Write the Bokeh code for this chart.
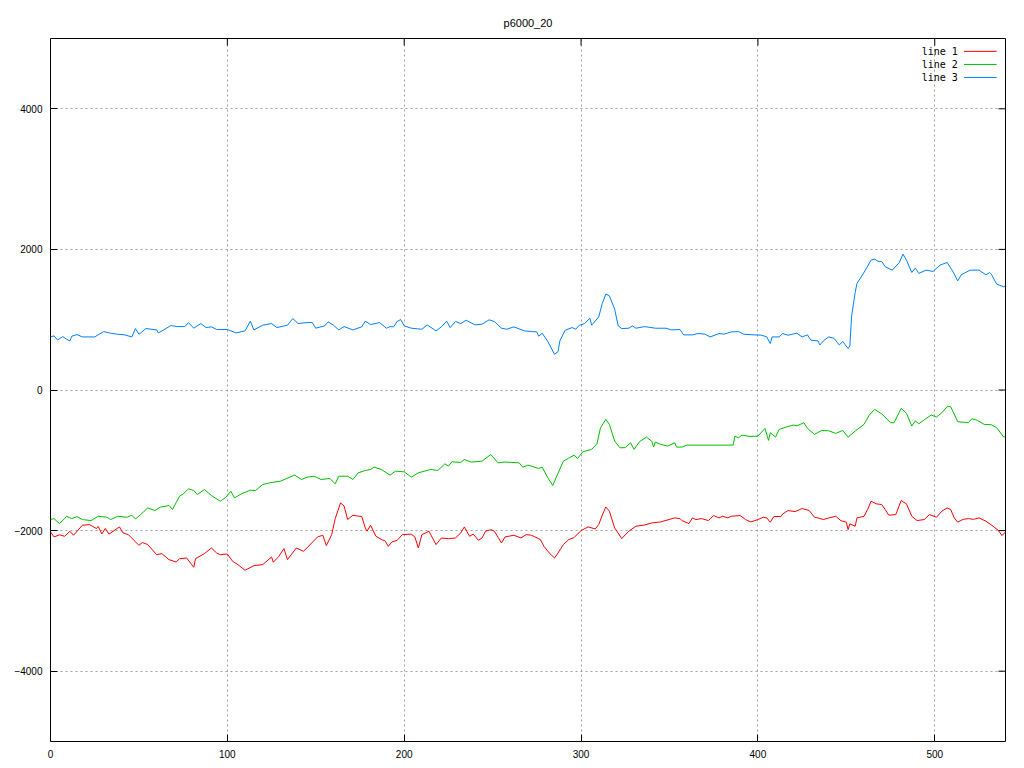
from bokeh.plotting import figure
from bokeh.models import Range1d, FixedTicker
from bokeh.core.properties import value
from bokeh.embed import file_html
from bokeh.resources import INLINE

# ---------------- data ----------------
line1_x = [0,2,5,8,11,13,18,22,26,27,29,31,33,36,39,41,44,50,52,55,60,63,67,71,73,77,81,82,87,91,94,96,100,103,106,110,115,120,125,126,129,132,134,139,143,145,151,154,156,159,161,164,166,168,171,173,176,178,179,181,184,188,189,191,193,196,199,204,206,208,210,214,218,221,225,229,232,234,237,239,242,244,246,249,251,255,257,262,266,269,272,277,279,282,285,287,290,293,296,300,304,308,310,312,314,316,319,323,327,331,336,340,345,353,356,357,361,363,365,368,372,375,378,380,383,385,390,393,396,400,403,405,407,409,413,414,417,421,425,429,432,434,437,440,444,447,450,451,452,455,456,460,462,464,467,470,472,474,478,481,484,487,490,494,497,501,504,507,509,511,513,516,519,522,525,529,533,536,538,540]
line1_y = [-2019,-2090,-2060,-2081,-2009,-2066,-1924,-1914,-1971,-1940,-2048,-1970,-2050,-1999,-1948,-2033,-2057,-2209,-2170,-2199,-2342,-2328,-2413,-2447,-2400,-2390,-2522,-2400,-2328,-2247,-2320,-2342,-2333,-2437,-2484,-2565,-2498,-2484,-2375,-2450,-2370,-2256,-2413,-2247,-2294,-2247,-2090,-2066,-2213,-2057,-1829,-1606,-1650,-1843,-1781,-1790,-1800,-1962,-2009,-1924,-2081,-2138,-2140,-2223,-2162,-2138,-2057,-2050,-2090,-2247,-2057,-2009,-2199,-2105,-2115,-2105,-2033,-1948,-2081,-2050,-2138,-2105,-2009,-1986,-2009,-2176,-2090,-2066,-2105,-2057,-2066,-2128,-2223,-2318,-2390,-2318,-2199,-2128,-2100,-1999,-1948,-1976,-1914,-1781,-1663,-1724,-1962,-2113,-2009,-1938,-1920,-1891,-1877,-1819,-1830,-1857,-1900,-1819,-1843,-1829,-1857,-1786,-1819,-1796,-1819,-1796,-1786,-1843,-1877,-1843,-1810,-1820,-1881,-1800,-1800,-1763,-1715,-1730,-1686,-1715,-1810,-1820,-1843,-1820,-1796,-1860,-1880,-1986,-1905,-1938,-1819,-1796,-1701,-1582,-1620,-1629,-1701,-1781,-1772,-1572,-1620,-1796,-1857,-1843,-1772,-1810,-1724,-1677,-1700,-1819,-1881,-1840,-1829,-1840,-1819,-1867,-1938,-1999,-2071,-2019]

line2_x = [0,2,5,8,9,12,15,18,23,27,32,34,38,43,46,48,51,55,59,62,67,69,73,75,78,81,83,87,91,96,99,102,104,108,113,116,120,124,130,138,142,145,149,153,158,161,163,168,171,174,178,181,183,187,192,195,200,204,208,215,219,223,225,227,232,234,238,244,249,253,257,265,267,270,276,278,281,284,286,290,293,296,298,301,306,309,311,314,316,319,322,325,328,330,333,337,340,341,342,345,349,353,354,357,360,386,387,389,391,395,400,404,406,407,410,412,416,420,422,426,428,432,436,440,444,448,451,455,460,463,466,470,475,477,481,484,487,489,491,495,498,501,504,507,509,513,519,521,524,528,532,535,539,540]
line2_y = [-1843,-1829,-1900,-1829,-1796,-1830,-1800,-1843,-1857,-1796,-1810,-1843,-1796,-1810,-1781,-1834,-1772,-1677,-1715,-1667,-1643,-1700,-1510,-1480,-1406,-1430,-1487,-1415,-1501,-1582,-1530,-1439,-1534,-1477,-1425,-1430,-1344,-1320,-1297,-1211,-1273,-1240,-1226,-1273,-1259,-1335,-1226,-1226,-1273,-1178,-1145,-1130,-1097,-1130,-1211,-1154,-1164,-1240,-1178,-1130,-1145,-1050,-1083,-1021,-1030,-988,-1026,-1012,-917,-1036,-1025,-1036,-1097,-1069,-1116,-1097,-1240,-1359,-1240,-1012,-970,-926,-974,-879,-845,-765,-537,-418,-489,-727,-822,-820,-751,-845,-736,-670,-730,-812,-740,-774,-798,-751,-812,-812,-784,-784,-656,-680,-641,-660,-656,-546,-717,-608,-670,-560,-527,-499,-510,-465,-546,-632,-575,-580,-617,-575,-670,-584,-489,-356,-275,-340,-465,-465,-261,-330,-513,-440,-480,-408,-356,-385,-323,-237,-237,-451,-465,-408,-430,-489,-494,-537,-670,-660]

line3_x = [0,2,4,7,9,11,12,15,18,25,30,34,38,42,46,48,50,54,60,61,64,68,72,76,78,81,85,88,91,94,100,105,110,113,115,120,125,128,134,137,140,145,148,150,155,157,160,163,166,171,176,178,181,186,190,192,194,196,198,200,204,210,213,218,221,224,226,229,232,235,240,244,248,251,255,258,262,268,272,275,276,278,281,285,287,288,291,295,297,299,302,305,306,310,312,314,316,319,321,323,327,329,331,336,342,348,351,356,358,363,366,370,373,378,381,385,389,392,398,402,405,407,408,412,414,417,422,425,428,430,434,435,437,440,443,446,448,451,452,453,455,456,460,464,466,468,470,472,476,480,482,484,487,489,491,495,499,503,507,510,513,515,520,525,529,531,532,535,539,540]
line3_y = [755,770,712,760,722,698,765,788,755,755,831,808,793,784,755,874,793,874,855,812,855,916,902,902,959,879,945,888,898,860,860,812,841,979,855,922,945,888,922,1016,945,959,959,879,912,969,922,855,902,855,898,979,931,959,879,902,898,974,1002,912,879,864,926,841,898,979,888,974,945,993,926,936,998,974,879,864,898,841,831,827,765,808,698,508,546,698,850,888,865,922,945,1021,922,1040,1230,1364,1340,1150,912,874,879,912,879,902,879,879,855,860,784,784,803,795,755,803,795,827,831,793,784,780,755,660,755,755,803,779,808,755,784,708,698,641,698,755,736,641,690,589,627,1055,1387,1515,1672,1848,1862,1830,1828,1753,1705,1814,1933,1848,1672,1734,1658,1705,1686,1777,1814,1696,1553,1639,1705,1705,1639,1670,1648,1506,1468,1482]

series_names = ["line 1", "line 2", "line 3"]
series_colors = ["#ff0000", "#00c000", "#0080ff"]
x_ticks = [0, 100, 200, 300, 400, 500]
y_ticks = [-4000, -2000, 0, 2000, 4000]
title_text = "p6000_20"

X0, X1 = 0, 540
Y0, Y1 = -5000, 5000
FW, FH = 955, 703

# ---------------- figure ----------------
p = figure(frame_width=FW, frame_height=FH,
           min_border_left=50, min_border_right=11,
           min_border_top=38, min_border_bottom=19,
           x_range=Range1d(X0, X1), y_range=Range1d(Y0, Y1),
           output_backend="svg", toolbar_location=None,
           title=title_text)

p.title.align = "center"
p.title.text_font = "Liberation Sans"
p.title.text_font_size = "11px"
p.title.text_font_style = "normal"
p.title.text_color = "#000000"
p.title.standoff = 19

p.outline_line_color = "#000000"
p.outline_line_width = 1
p.background_fill_color = "#ffffff"
p.border_fill_color = "#ffffff"

for ax, ticks in ((p.xaxis[0], x_ticks), (p.yaxis[0], y_ticks)):
    ax.ticker = FixedTicker(ticks=ticks)
    ax.axis_line_color = None
    ax.major_tick_in = 7
    ax.major_tick_out = 0
    ax.major_tick_line_color = "#000000"
    ax.minor_tick_line_color = None
    ax.major_label_text_font = "Liberation Sans"
    ax.major_label_text_font_size = "10px"
    ax.major_label_text_color = "#000000"
p.xaxis[0].major_label_standoff = 8
p.yaxis[0].major_label_standoff = 8

p.xgrid.ticker = FixedTicker(ticks=x_ticks[1:])
p.ygrid.ticker = FixedTicker(ticks=y_ticks)
for g in (p.xgrid[0], p.ygrid[0]):
    g.grid_line_color = "#a0a0a0"
    g.grid_line_dash = "2 3"
    g.grid_line_width = 1

# mirrored tick marks on the top and right edges (7 px long, inward)
tx_len = 7 * (Y1 - Y0) / FH
ty_len = 7 * (X1 - X0) / FW
p.segment(x0=x_ticks, y0=[Y1] * len(x_ticks), x1=x_ticks, y1=[Y1 - tx_len] * len(x_ticks),
          line_color="#000000", line_width=1)
p.segment(x0=[X1] * len(y_ticks), y0=y_ticks, x1=[X1 - ty_len] * len(y_ticks), y1=y_ticks,
          line_color="#000000", line_width=1)

xs = [line1_x, line2_x, line3_x]
ys = [line1_y, line2_y, line3_y]
for x, y, c in zip(xs, ys, series_colors):
    p.line(x, y, line_color=c, line_width=1)

# gnuplot-style key: text then sample, top right
key_text_right = 513
key_x0, key_x1 = 516.5, 535
key_rows = [4817, 4631, 4446]
p.text(x=[key_text_right] * 3, y=key_rows, text=series_names,
       text_align="right", text_baseline="middle",
       text_font=value("DejaVu Sans Mono"), text_font_size="10px",
       text_color="#000000")
p.segment(x0=[key_x0] * 3, y0=key_rows, x1=[key_x1] * 3, y1=key_rows,
          line_color=series_colors, line_width=1)

open("out.html", "w").write(file_html(p, INLINE))
